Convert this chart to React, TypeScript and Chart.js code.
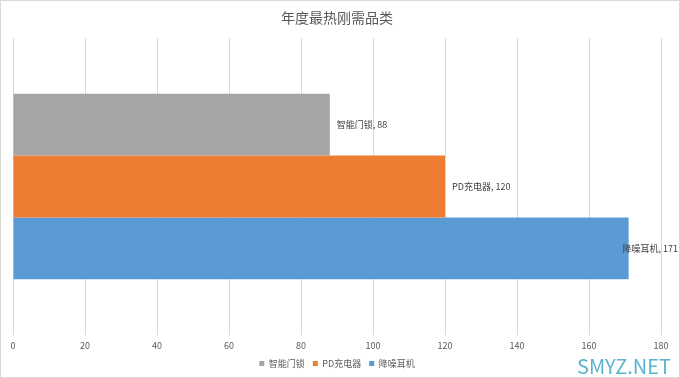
import React, { useEffect, useRef } from "react";
import { Chart, registerables } from "chart.js";

Chart.register(...registerables);

const categories = ["年度最热刚需品类"];
const seriesNames = ["智能门锁", "PD充电器", "降噪耳机"];
const seriesValues = [88, 120, 171];
const seriesColors = ["#a5a5a5", "#ed7d31", "#5b9bd5"];
const xTicks = [0, 20, 40, 60, 80, 100, 120, 140, 160, 180];

const FONT = "'Noto Sans CJK SC', 'Noto Sans', sans-serif";

export default function App() {
  const ref = useRef<HTMLCanvasElement | null>(null);

  useEffect(() => {
    document.body.style.margin = "0";
    const canvas = ref.current!;
    const labelPlugin = {
      id: "barLabels",
      afterDatasetsDraw(chart: any) {
        const ctx = chart.ctx;
        ctx.save();
        ctx.font = `9px ${FONT}`;
        ctx.fillStyle = "#404040";
        ctx.textBaseline = "middle";
        chart.data.datasets.forEach((ds: any, i: number) => {
          const meta = chart.getDatasetMeta(i);
          const el = meta.data[0];
          if (!el) return;
          const text = `${ds.label}, ${ds.data[0]}`;
          const w = ctx.measureText(text).width;
          let x = el.x + 7;
          if (x + w > 678) x = 678 - w;
          ctx.fillText(text, x, el.y);
        });
        ctx.restore();
      },
    };
    const framePlugin = {
      id: "frame",
      afterDraw(chart: any) {
        const ctx = chart.ctx;
        ctx.save();
        ctx.strokeStyle = "#d9d9d9";
        ctx.lineWidth = 1;
        ctx.strokeRect(0.5, 0.5, chart.width - 1, chart.height - 1);
        ctx.font = `20px ${FONT}`;
        ctx.fillStyle = "#5bb4cf";
        ctx.textAlign = "right";
        ctx.textBaseline = "alphabetic";
        ctx.fillText("SMYZ.NET", 671, 374);
        ctx.restore();
      },
    };
    const chart = new Chart(canvas, {
      type: "bar",
      data: {
        labels: categories,
        datasets: seriesNames.map((name, i) => ({
          label: name,
          data: [seriesValues[i]],
          backgroundColor: seriesColors[i],
          borderWidth: 0,
          barPercentage: 1,
          categoryPercentage: 0.624,
        })),
      },
      options: {
        indexAxis: "y",
        animation: false,
        responsive: false,
        maintainAspectRatio: false,
        layout: { padding: { left: 13, right: 19, top: 0, bottom: 0 } },
        scales: {
          x: {
            min: 0,
            max: 180,
            afterBuildTicks: (scale: any) => {
              scale.ticks = xTicks.map((v) => ({ value: v }));
            },
            grid: {
              color: "#d9d9d9",
              drawTicks: true,
              tickLength: 5,
              tickColor: "rgba(0,0,0,0)",
              lineWidth: 1,
            },
            border: { display: false },
            ticks: {
              color: "#595959",
              font: { size: 9, family: FONT },
              padding: 0,
              maxRotation: 0,
            },
          },
          y: {
            display: false,
          },
        },
        plugins: {
          title: {
            display: true,
            text: categories[0],
            color: "#595959",
            font: { size: 14, family: FONT, weight: "normal" },
            padding: { top: 9, bottom: 12 },
          },
          legend: {
            display: true,
            position: "bottom",
            labels: {
              color: "#595959",
              font: { size: 9, family: FONT },
              boxWidth: 5,
              boxHeight: 5,
              padding: 8,
            },
          },
          tooltip: { enabled: false },
        },
      },
      plugins: [labelPlugin, framePlugin],
    });
    return () => chart.destroy();
  }, []);

  return (
    <div style={{ width: 680, height: 378 }}>
      <canvas ref={ref} width={680} height={378} style={{ display: "block" }} />
    </div>
  );
}
